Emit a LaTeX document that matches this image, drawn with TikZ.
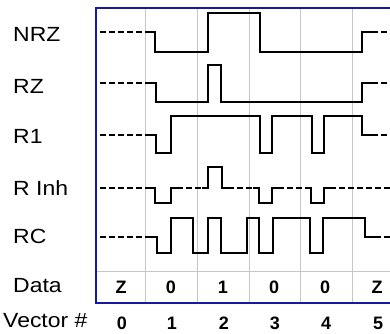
\documentclass[tikz,border=0pt]{standalone}
\usepackage{fontspec}
\setsansfont{Liberation Sans}
\newfontfamily\lblfont[FakeStretch=1.12]{Liberation Sans}
\usepackage{xcolor}
\usetikzlibrary{positioning}
\definecolor{frameblue}{RGB}{20,24,165}

\begin{document}
\begin{tikzpicture}[
    x=1pt, y=-1pt,
    lbl/.style={anchor=west, inner sep=0pt, font=\lblfont\fontsize{20.5}{24}\selectfont},
    val/.style={inner sep=0pt, font=\sffamily\bfseries\fontsize{18}{20}\selectfont},
    frame/.style={draw=frameblue, line width=1.8pt},
    grid/.style={draw=gray!45, line width=0.9pt},
    wave/.style={draw=black, line width=2pt},
    zline/.style={draw=black, line width=2pt, dash pattern=on 6pt off 3pt}
]
    \clip (0,0) rectangle (390,333);
    \useasboundingbox (0,0) rectangle (390,333);

    % Grid
    \foreach \x in {145,197,249,300,352}
        \draw[grid] (\x,8) -- (\x,303);
    \draw[grid] (96,271) -- (395,271);

    % Row labels
    \node[lbl] (nrz) at (13,34) {NRZ};
    \node[lbl] (rz) at (13,86) {RZ};
    \node[lbl] (rone) at (13,136) {R1};
    \node[lbl] (rinh) at (13,188) {R Inh};
    \node[lbl] (rc) at (13,236) {RC};
    \node[lbl] (data) at (13,286) {Data};
    \node[lbl] (vector) at (3,321) {Vector \#};

    % NRZ
    \draw[zline] (100,32) -- (145,32);
    \draw[wave] (145,32) -- (155,32) -- (155,52) -- (208,52) -- (208,13) -- (260,13)
        -- (260,52) -- (362,52) -- (362,32) -- (372,32);
    \draw[zline] (372,32) -- (392,32);

    % RZ
    \draw[zline] (100,83) -- (145,83);
    \draw[wave] (145,83) -- (156,83) -- (156,102) -- (208,102) -- (208,65) -- (221,65)
        -- (221,102) -- (362,102) -- (362,83) -- (372,83);
    \draw[zline] (372,83) -- (392,83);

    % R1
    \draw[zline] (100,135) -- (145,135);
    \draw[wave] (145,135) -- (156,135) -- (156,153) -- (171,153) -- (171,116) -- (260,116)
        -- (260,153) -- (272,153) -- (272,116) -- (312,116) -- (312,153) -- (324,153)
        -- (324,116) -- (362,116) -- (362,135) -- (372,135);
    \draw[zline] (372,135) -- (392,135);

    % R Inh
    \draw[zline] (100,188) -- (145,188);
    \draw[wave] (145,188) -- (155,188) -- (155,203) -- (171,203) -- (171,188) -- (177,188);
    \draw[zline] (177,188) -- (202,188);
    \draw[wave] (202,188) -- (208,188) -- (208,167) -- (222,167) -- (222,188) -- (228,188);
    \draw[zline] (228,188) -- (253,188);
    \draw[wave] (253,188) -- (259,188) -- (259,203) -- (272,203) -- (272,188) -- (278,188);
    \draw[zline] (278,188) -- (305,188);
    \draw[wave] (305,188) -- (311,188) -- (311,203) -- (324,203) -- (324,188) -- (330,188);
    \draw[zline] (330,188) -- (392,188);

    % RC
    \draw[zline] (100,237) -- (145,237);
    \draw[wave] (145,237) -- (157,237) -- (157,253) -- (171,253) -- (171,218) -- (193,218)
        -- (193,253) -- (208,253) -- (208,218) -- (221,218) -- (221,253) -- (247,253)
        -- (247,218) -- (259,218) -- (259,253) -- (273,253) -- (273,218) -- (310,218)
        -- (310,253) -- (323,253) -- (323,218) -- (365,218) -- (365,237) -- (375,237);
    \draw[zline] (375,237) -- (392,237);

    % Data and vector numbers
    \foreach \x/\d/\v [count=\i] in {121/Z/0,171/0/1,223/1/2,274/0/3,325/0/4,377/Z/5} {
        \node[val] (d\i) at (\x,287) {\d};
        \node[val] (v\i) at (\x+1,323) {\v};
    }

    % Frame
    \draw[frame] (400,8) -- (96,8) -- (96,303) -- (400,303);
\end{tikzpicture}
\end{document}
